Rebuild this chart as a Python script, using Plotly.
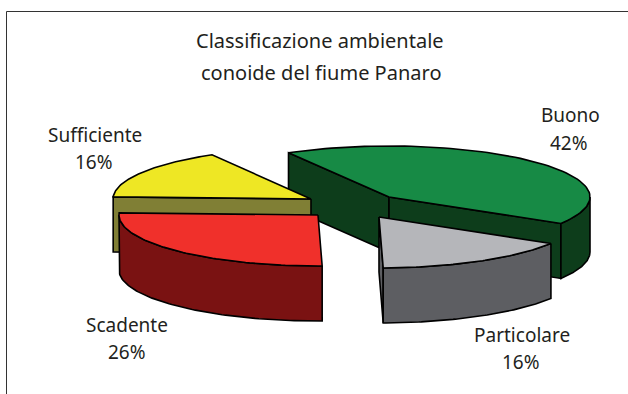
import numpy as np
import plotly.graph_objects as go

categories = ["Buono", "Particolare", "Scadente", "Sufficiente"]
values = [42, 16, 26, 16]

top_colors = ["#178a45", "#b5b6ba", "#f0302b", "#eee724"]
side_colors = ["#0d3d1b", "#5d5e62", "#7a1212", "#807f35"]

# pie drawn in picture pixels, y pointing down
cx, cy = 389, 197
radius_x = [201, 201, 199, 198]
ry = 51
depth = 55
start_angle = 120
explode = [(0, 0), (-10, 20), (-71, 18), (-78, 2)]
draw_order = [0, 3, 2, 1]

# where each label sits
label_x = [570, 522, 127, 95]
label_y = [115, 335, 325, 135]
percent_x = [569, 521, 127, 94]
percent_y = [143, 362, 352, 162]

fig = go.Figure()


def add_poly(xs, ys, color):
    fig.add_trace(go.Scatter(x=xs, y=ys, mode="lines", fill="toself", fillcolor=color,
                             line=dict(color="#000000", width=1.6), hoverinfo="skip",
                             showlegend=False))


def arc(ox, oy, rx, t0, t1):
    t = np.radians(np.linspace(t0, t1, 80))
    return ox + rx * np.cos(t), oy - ry * np.sin(t)


def radial_face(ox, oy, rx, t, color):
    ex = ox + rx * np.cos(np.radians(t))
    ey = oy - ry * np.sin(np.radians(t))
    add_poly([ox, ex, ex, ox, ox], [oy, ey, ey + depth, oy + depth, oy], color)


sweeps = np.array(values) / sum(values) * 360
ends = start_angle - np.cumsum(sweeps)
starts = ends + sweeps

for i in draw_order:
    ox, oy = cx + explode[i][0], cy + explode[i][1]
    rx = radius_x[i]
    t0, t1 = starts[i], ends[i]

    # cut faces, only the ones turned towards the viewer
    if np.cos(np.radians(t0)) < 0:
        radial_face(ox, oy, rx, t0, side_colors[i])
    if np.cos(np.radians(t1)) > 0:
        radial_face(ox, oy, rx, t1, side_colors[i])

    # outer rim, only the front half of the ellipse shows
    rim0, rim1 = min(t0, 0), max(t1, -180)
    if rim0 > rim1:
        ax, ay = arc(ox, oy, rx, rim0, rim1)
        add_poly(np.r_[ax, ax[::-1], ax[0]], np.r_[ay, ay[::-1] + depth, ay[0]], side_colors[i])

    ax, ay = arc(ox, oy, rx, t0, t1)
    add_poly(np.r_[ox, ax, ox], np.r_[oy, ay, oy], top_colors[i])

font = dict(family="Noto Sans", size=19, color="#231f20")
title_font = dict(family="Noto Sans", size=20, color="#231f20")

for i, name in enumerate(categories):
    fig.add_annotation(x=label_x[i], y=label_y[i], text=name, showarrow=False, font=font)
    fig.add_annotation(x=percent_x[i], y=percent_y[i], text=f"{values[i]}%", showarrow=False, font=font)

fig.add_annotation(x=320, y=40, text="Classificazione ambientale", showarrow=False, font=title_font)
fig.add_annotation(x=321, y=72, text="conoide del fiume Panaro", showarrow=False, font=title_font)

# frame, only top and left show in the picture
fig.add_shape(type="line", x0=6.5, x1=628, y0=11.5, y1=11.5, line=dict(color="#333333", width=1))
fig.add_shape(type="line", x0=6.5, x1=6.5, y0=11.5, y1=394, line=dict(color="#333333", width=1))

fig.update_xaxes(range=[0, 628], visible=False, fixedrange=True)
fig.update_yaxes(range=[394, 0], visible=False, fixedrange=True)
fig.update_layout(width=628, height=394, margin=dict(l=0, r=0, t=0, b=0),
                  paper_bgcolor="white", plot_bgcolor="white")

fig.write_html("out.html", config={"displayModeBar": False},
               post_script="document.body.style.margin='0';document.documentElement.style.overflow='hidden';")
